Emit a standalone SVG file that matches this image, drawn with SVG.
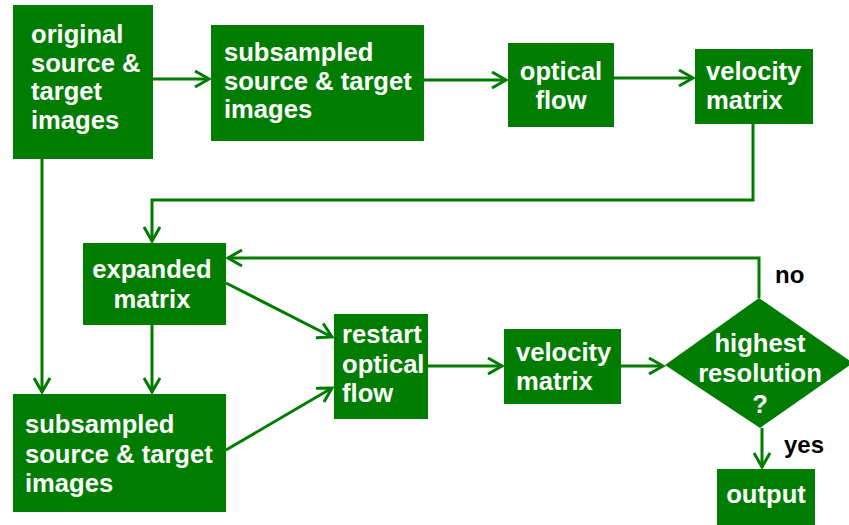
<svg xmlns="http://www.w3.org/2000/svg" width="849" height="525" viewBox="0 0 849 525">
  <style>
    .box { fill: #007d00; }
    .lbl { font-family: "Liberation Sans", Arial, sans-serif; font-weight: bold; font-size: 25.6px; fill: #ffffff; }
    .mid { text-anchor: middle; }
    .tag { font-family: "Liberation Sans", Arial, sans-serif; font-weight: bold; font-size: 24px; fill: #000000; }
    .wire { fill: none; stroke: #007d00; stroke-width: 3; }
  </style>
  <defs>
    <marker id="arrow" markerUnits="userSpaceOnUse" markerWidth="20" markerHeight="20" refX="15" refY="9" orient="auto">
      <path d="M1,1 L15,9 L1,17" fill="none" stroke="#007d00" stroke-width="3"/>
    </marker>
  </defs>
  <rect width="849" height="525" fill="#ffffff"/>

  <g id="connectors" class="wire">
    <path d="M153,79 H209" marker-end="url(#arrow)"/>
    <path d="M424,80 H506" marker-end="url(#arrow)"/>
    <path d="M614,78 H693" marker-end="url(#arrow)"/>
    <path d="M753,124 V200 H152 V241" marker-end="url(#arrow)"/>
    <path d="M42,159 V392" marker-end="url(#arrow)"/>
    <path d="M152,325 V392" marker-end="url(#arrow)"/>
    <path d="M226,283 L332,337" marker-end="url(#arrow)"/>
    <path d="M226,450 L332,388" marker-end="url(#arrow)"/>
    <path d="M428,366 H502" marker-end="url(#arrow)"/>
    <path d="M621,366 H663" marker-end="url(#arrow)"/>
    <path d="M759,298 V258 H228" marker-end="url(#arrow)"/>
    <path d="M762,428 V467" marker-end="url(#arrow)"/>
  </g>

  <g id="original">
    <rect class="box" x="13" y="5" width="140" height="154"/>
    <text class="lbl" x="31" y="43">original</text>
    <text class="lbl" x="31" y="72">source &amp;</text>
    <text class="lbl" x="31" y="100">target</text>
    <text class="lbl" x="31" y="129">images</text>
  </g>

  <g id="subsampled-top">
    <rect class="box" x="211" y="25" width="213" height="116"/>
    <text class="lbl" x="224" y="61">subsampled</text>
    <text class="lbl" x="224" y="90">source &amp; target</text>
    <text class="lbl" x="224" y="118">images</text>
  </g>

  <g id="optical-flow">
    <rect class="box" x="508" y="43" width="106" height="84"/>
    <text class="lbl mid" x="561" y="80">optical</text>
    <text class="lbl mid" x="561" y="109">flow</text>
  </g>

  <g id="velocity-top">
    <rect class="box" x="695" y="49" width="118" height="75"/>
    <text class="lbl" x="706" y="80">velocity</text>
    <text class="lbl" x="706" y="109">matrix</text>
  </g>

  <g id="expanded">
    <rect class="box" x="83" y="243" width="143" height="82"/>
    <text class="lbl mid" x="152" y="278">expanded</text>
    <text class="lbl mid" x="152" y="308">matrix</text>
  </g>

  <g id="subsampled-bottom">
    <rect class="box" x="13" y="394" width="213" height="118"/>
    <text class="lbl" x="25" y="433">subsampled</text>
    <text class="lbl" x="25" y="463">source &amp; target</text>
    <text class="lbl" x="25" y="492">images</text>
  </g>

  <g id="restart">
    <rect class="box" x="334" y="314" width="94" height="105"/>
    <text class="lbl" x="342" y="343">restart</text>
    <text class="lbl" x="342" y="373">optical</text>
    <text class="lbl" x="342" y="402">flow</text>
  </g>

  <g id="velocity-bottom">
    <rect class="box" x="504" y="329" width="117" height="75"/>
    <text class="lbl" x="516" y="361">velocity</text>
    <text class="lbl" x="516" y="390">matrix</text>
  </g>

  <g id="decision">
    <polygon class="box" points="759,298 853,363 760,428 665,365"/>
    <text class="lbl mid" x="760" y="352">highest</text>
    <text class="lbl mid" x="760" y="382">resolution</text>
    <text class="lbl mid" x="760" y="413">?</text>
    <text class="tag" x="775" y="283">no</text>
    <text class="tag" x="784" y="453">yes</text>
  </g>

  <g id="output">
    <rect class="box" x="717" y="469" width="98" height="56"/>
    <text class="lbl mid" x="766" y="503">output</text>
  </g>
</svg>
